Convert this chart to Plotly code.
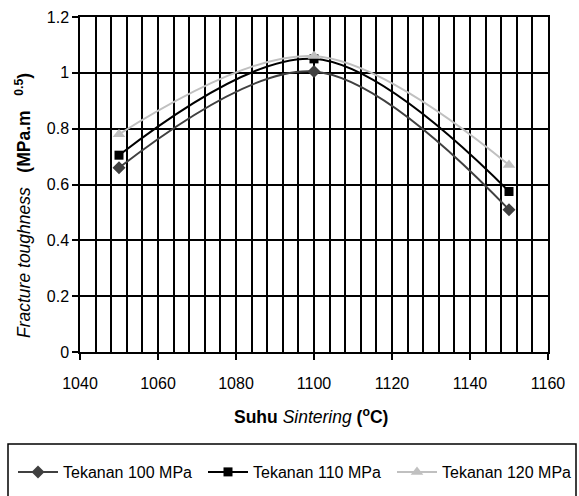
import plotly.graph_objects as go

suhu = [1050, 1100, 1150]
tekanan_100 = [0.66, 1.005, 0.51]
tekanan_110 = [0.705, 1.05, 0.575]
tekanan_120 = [0.78, 1.06, 0.67]
series_names = ["Tekanan 100 MPa", "Tekanan 110 MPa", "Tekanan 120 MPa"]

FONT = "Liberation Sans, Arial, sans-serif"

# plot-area geometry in px (for placing outside elements in paper coords)
L, R, T, B = 80, 31, 17, 144
W, H = 579, 496
PW, PH = W - L - R, H - T - B


def px_x(px):
    return (px - L) / PW


def px_y(py):
    return (H - B - py) / PH


fig = go.Figure()
fig.add_trace(go.Scatter(
    x=suhu, y=tekanan_100, name=series_names[0], mode="lines+markers",
    line=dict(color="#404040", width=2, shape="spline", smoothing=1),
    marker=dict(symbol="diamond", size=10, color="#404040"), legend="legend"))
fig.add_trace(go.Scatter(
    x=suhu, y=tekanan_110, name=series_names[1], mode="lines+markers",
    line=dict(color="#000000", width=2, shape="spline", smoothing=1),
    marker=dict(symbol="square", size=9, color="#000000"), legend="legend2"))
fig.add_trace(go.Scatter(
    x=suhu, y=tekanan_120, name=series_names[2], mode="lines+markers",
    line=dict(color="#c0c0c0", width=2, shape="spline", smoothing=1),
    marker=dict(symbol="triangle-up", size=11, color="#c0c0c0"), legend="legend3"))


def leg(xpx):
    return dict(orientation="h", x=px_x(xpx), xanchor="left", y=px_y(472), yanchor="middle",
                borderwidth=0, bgcolor="rgba(0,0,0,0)", itemwidth=40,
                font=dict(family=FONT, size=16, color="black"))


fig.update_layout(
    width=W, height=H,
    margin=dict(l=L, r=R, t=T, b=B, autoexpand=False),
    paper_bgcolor="white", plot_bgcolor="white",
    font=dict(family=FONT, size=16, color="black"),
    showlegend=True,
    legend=leg(13), legend2=leg(203), legend3=leg(392),
    xaxis=dict(
        range=[1040, 1160], dtick=20, tick0=1040,
        showgrid=True, gridcolor="black", gridwidth=1.5,
        minor=dict(dtick=4, tick0=1040, showgrid=True, gridcolor="black", gridwidth=1.5),
        showline=True, linecolor="black", linewidth=1.5, mirror=True,
        ticks="outside", ticklen=6, tickcolor="black", tickwidth=1.5,
        ticklabelstandoff=10, automargin=False,
        zeroline=False, fixedrange=True,
    ),
    yaxis=dict(
        range=[0, 1.2], dtick=0.2, tick0=0,
        showgrid=True, gridcolor="black", gridwidth=1.5,
        showline=True, linecolor="black", linewidth=1.5, mirror=True,
        ticks="outside", ticklen=6, tickcolor="black", tickwidth=1.5,
        automargin=False,
        zeroline=False, fixedrange=True,
    ),
    shapes=[dict(type="rect", xref="paper", yref="paper",
                 x0=px_x(8), x1=px_x(576), y0=px_y(444), y1=px_y(505),
                 line=dict(color="black", width=1.5), fillcolor="rgba(0,0,0,0)")],
    annotations=[
        dict(text="<b>Suhu</b> <i>Sintering</i> <b>(<sup>o</sup>C)</b>",
             xref="paper", yref="paper", x=px_x(311), y=px_y(416),
             xanchor="center", yanchor="middle", showarrow=False,
             font=dict(family=FONT, size=17.5, color="black")),
        dict(text="<i>Fracture toughness</i>&nbsp;&nbsp;&nbsp;<b>(MPa.m</b>&nbsp;&nbsp;&nbsp;<b><sup>0.5</sup>)</b>",
             xref="paper", yref="paper", x=px_x(23), y=px_y(206),
             xanchor="center", yanchor="middle", showarrow=False, textangle=-90,
             font=dict(family=FONT, size=17.5, color="black")),
    ],
)

fig.write_html("out.html", config={"displayModeBar": False},
               post_script="document.body.style.margin='0px';")
